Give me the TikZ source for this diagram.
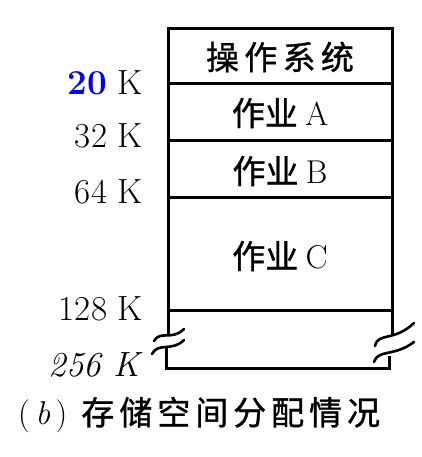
\documentclass[tikz,border=0pt]{standalone}
\usepackage{fontspec}
\newfontfamily\cjk[FakeBold=1]{Noto Sans CJK SC}
\newfontfamily\cjkwide[FakeBold=1,LetterSpace=16]{Noto Sans CJK SC}
\newfontfamily\cjkcap[FakeBold=1,LetterSpace=15]{Noto Sans CJK SC}
\usepackage{tikz}
\usetikzlibrary{positioning,calc}
\tikzset{
  memline/.style={line width=3pt},
  bruch/.style={line width=2.6pt,line cap=round},
  adresse/.style={anchor=base east,font=\fontsize{35}{40}\selectfont,inner sep=0pt},
  inhalt/.style={font=\fontsize{33}{38}\selectfont,inner sep=0pt}
}
\begin{document}
\begin{tikzpicture}[x=1pt,y=-1pt]
\useasboundingbox (0,0) rectangle (422,457);
%Speicher von links 168 bis rechts 392, oben 29
  \pgfmathsetmacro{\li}{168}
  \pgfmathsetmacro{\re}{392}
  \pgfmathsetmacro{\ob}{29}
  \pgfmathsetmacro{\un}{368}
\coordinate (LO) at (\li,\ob);
\coordinate (RO) at (\re,\ob);
\draw[memline] (\li,336) -- (LO) -- (RO) -- (\re,334);
\foreach \y in {84,141,197,310}{
\draw[memline] (\li,\y) -- (\re,\y);
}
%Bruchstellen links und rechts
\draw[bruch] (154,341) .. controls (160,330) and (172,341) .. (184,329);
\draw[bruch] (152,354) .. controls (158,342) and (172,352) .. (184,340);
\draw[memline] (166,346) -- (166,\un) -- (389,\un) -- (389,356);
\draw[bruch] (375,346) .. controls (378,332) and (394,342) .. (414,323);
\draw[bruch] (374,362) .. controls (378,349) and (394,357) .. (414,342);
%Inhalt
\node[inhalt] (os)   at (280,57)  {\cjkwide 操作系统};
\node[inhalt] (jobA) at (280,113) {\cjk 作业\ \rmfamily A};
\node[inhalt] (jobB) at (280,171) {\cjk 作业\ \rmfamily B};
\node[inhalt] (jobC) at (280,256) {\cjk 作业\ \rmfamily C};
%Adressen
\node[adresse] (l20)  at (143,95)  {\textcolor{blue}{\textbf{20}}\ K};
\node[adresse] (l32)  at (143,148) {32\ K};
\node[adresse] (l64)  at (143,203) {64\ K};
\node[adresse] (l128) at (143,320) {128\ K};
\node[adresse] (l256) at (143,376) {\textit{256\ K}};
\node[inner sep=0pt,anchor=west,font=\fontsize{33}{38}\selectfont] (caption) at (18,415)
  {(\,\textit{b}\,)\hspace{14pt}{\cjkcap 存储空间分配情况}};
\end{tikzpicture}
\end{document}
